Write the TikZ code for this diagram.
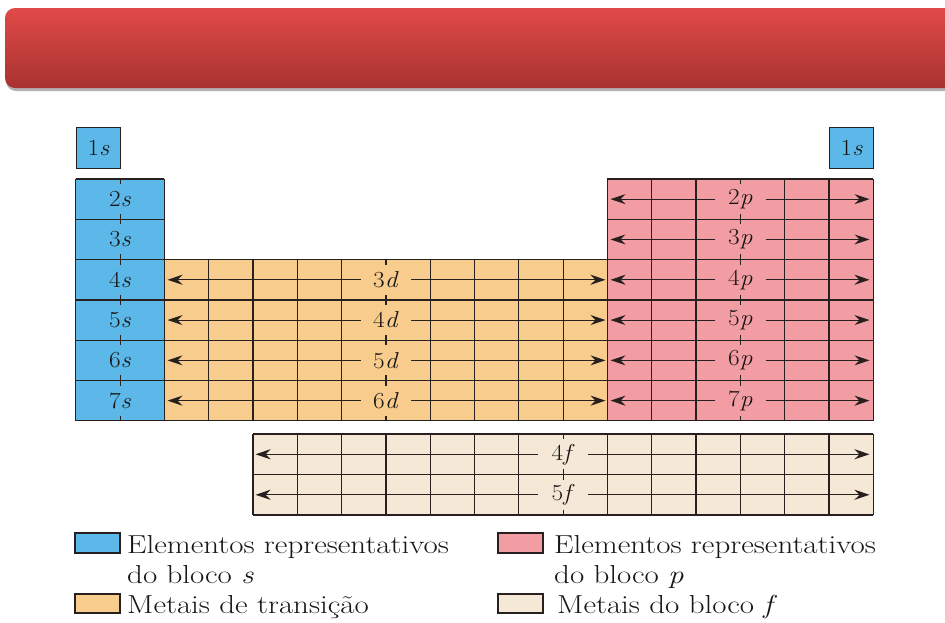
\documentclass[tikz,border=0pt]{standalone}
\usetikzlibrary{arrows.meta}
\definecolor{sblue}{RGB}{92,184,232}
\definecolor{dorange}{RGB}{248,204,140}
\definecolor{ppink}{RGB}{242,156,164}
\definecolor{fbeige}{RGB}{245,232,214}
\definecolor{gridc}{RGB}{40,32,30}
\definecolor{txtc}{RGB}{25,22,22}
\definecolor{bantop}{RGB}{224,74,72}
\definecolor{banbot}{RGB}{168,50,48}
\newcommand{\wideleg}[1]{\scalebox{1.19}[1]{#1}}
\newcommand{\widelbl}[1]{\scalebox{1.1}[1]{#1}}
\tikzset{
  gridline/.style={draw=gridc, line width=1.2pt},
  lbl/.style={inner sep=0pt, minimum width=50pt, minimum height=30pt, text=txtc, font=\fontsize{23}{23}\selectfont},
  arr/.style={draw=gridc, line width=1.1pt, -{Stealth[length=15pt,width=10pt,inset=5pt]}},
  legtext/.style={anchor=base west, text=txtc, font=\fontsize{26}{26}\selectfont, inner sep=0pt},
  legbox/.style={draw=gridc, line width=1.3pt},
  cellbox/.style={draw=gridc, line width=1.2pt, fill=sblue, text=txtc, minimum width=44.3pt, minimum height=41pt, inner sep=0pt, font=\fontsize{23}{23}\selectfont}
}
\begin{document}
\begin{tikzpicture}[x=1pt,y=-1pt]
\useasboundingbox (0,0) rectangle (945,622);
\fill[white] (0,0) rectangle (945,622);
% banner
\fill[black!30, rounded corners=10pt] (6,11) rectangle (960,91);
\shade[top color=bantop, bottom color=banbot, rounded corners=10pt] (5,8) rectangle (960,88);
% block fills
\fill[sblue] (75.8,179) rectangle (164.4,420.8);
\fill[dorange] (164.4,259.6) rectangle (607.4,420.8);
\fill[ppink] (607.4,179) rectangle (873.2,420.8);
\fill[fbeige] (253,434) rectangle (873.2,515);
% grid: s and p block rows
\foreach \k in {0,...,6}{
  \draw[gridline] (75.8,{179+\k*40.3}) -- (164.4,{179+\k*40.3});
  \draw[gridline] (607.4,{179+\k*40.3}) -- (873.2,{179+\k*40.3});
}
\foreach \x in {75.8,120.1,164.4}{
  \draw[gridline] (\x,179) -- (\x,420.8);
}
% grid: d block
\foreach \k in {2,...,6}{
  \draw[gridline] (164.4,{179+\k*40.3}) -- (607.4,{179+\k*40.3});
}
\foreach \i in {0,...,10}{
  \draw[gridline] ({164.4+\i*44.3},259.6) -- ({164.4+\i*44.3},420.8);
}
% grid: p block
\foreach \i in {0,...,6}{
  \draw[gridline] ({607.4+\i*44.3},179) -- ({607.4+\i*44.3},420.8);
}
% grid: f block
\foreach \yy in {434,474.5,515}{
  \draw[gridline] (253,\yy) -- (873.2,\yy);
}
\foreach \i in {0,...,14}{
  \draw[gridline] ({253+\i*44.3},434) -- ({253+\i*44.3},515);
}
% 1s boxes
\node[cellbox, anchor=north west] (s1a) at (75.8,127) {\widelbl{1\textit{s}}};
\node[cellbox, anchor=north west] (s1b) at (828.9,127) {\widelbl{1\textit{s}}};
% s labels
\foreach \r in {2,...,7}{
  \pgfmathsetmacro{\yc}{179+(\r-2)*40.3+20.15}
  \node[lbl, fill=sblue, minimum width=30pt] (s\r) at (120.1,\yc) {\widelbl{\r\textit{s}}};
}
% d labels and arrows
\foreach \r in {4,...,7}{
  \pgfmathsetmacro{\yc}{179+(\r-2)*40.3+20.15}
  \pgfmathtruncatemacro{\n}{\r-1}
  \node[lbl, fill=dorange] (d\r) at (385.9,\yc) {\widelbl{\n\textit{d}}};
  \coordinate (d\r l) at (167.5,\yc);
  \coordinate (d\r r) at (605.5,\yc);
  \draw[arr] (d\r.west) -- (d\r l);
  \draw[arr] (d\r.east) -- (d\r r);
}
% p labels and arrows
\foreach \r in {2,...,7}{
  \pgfmathsetmacro{\yc}{179+(\r-2)*40.3+20.15}
  \node[lbl, fill=ppink] (p\r) at (740.3,\yc) {\widelbl{\r\textit{p}}};
  \coordinate (p\r l) at (610.5,\yc);
  \coordinate (p\r r) at (869.5,\yc);
  \draw[arr] (p\r.west) -- (p\r l);
  \draw[arr] (p\r.east) -- (p\r r);
}
% f labels and arrows
\foreach \r/\yc in {4/454.25,5/494.75}{
  \node[lbl, fill=fbeige] (f\r) at (563.1,\yc) {\widelbl{\r\textit{f}}};
  \coordinate (f\r l) at (255.5,\yc);
  \coordinate (f\r r) at (869.5,\yc);
  \draw[arr] (f\r.west) -- (f\r l);
  \draw[arr] (f\r.east) -- (f\r r);
}
% legend
\draw[legbox, fill=sblue] (75,533) rectangle (120,553);
\node[legtext] (ls1) at (127,553) {\wideleg{Elementos representativos}};
\node[legtext] (ls2) at (127,583) {\wideleg{do bloco \textit{s}}};
\draw[legbox, fill=dorange] (75,594) rectangle (120,613);
\node[legtext] (ld) at (127,613) {\wideleg{Metais de transição}};
\draw[legbox, fill=ppink] (498,533) rectangle (543,553);
\node[legtext] (lp1) at (554,553) {\wideleg{Elementos representativos}};
\node[legtext] (lp2) at (554,583) {\wideleg{do bloco \textit{p}}};
\draw[legbox, fill=fbeige] (498,594) rectangle (543,613);
\node[legtext] (lf) at (557,613) {\wideleg{Metais do bloco \textit{f}}};
\end{tikzpicture}
\end{document}
